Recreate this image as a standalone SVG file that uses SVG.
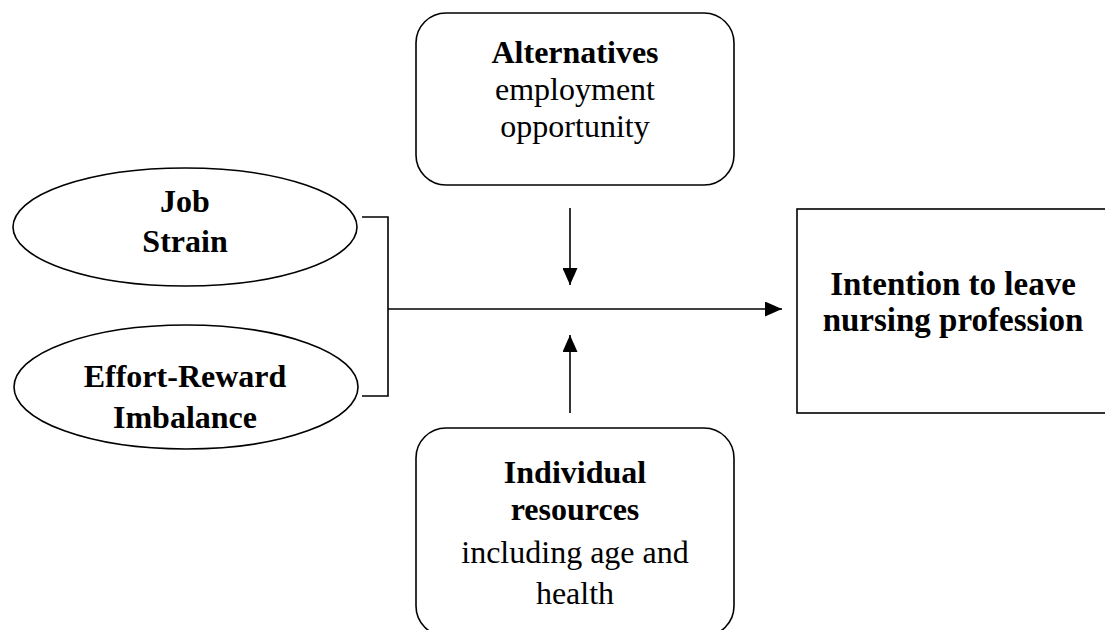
<svg xmlns="http://www.w3.org/2000/svg" width="1105" height="630" viewBox="0 0 1105 630">
<style>
.shape{fill:#fff;stroke:#000;stroke-width:1.6}
.line{fill:none;stroke:#000;stroke-width:1.6}
text{font-family:"Liberation Serif","Times New Roman",serif;font-size:32px;fill:#000;text-anchor:middle}
.b{font-weight:bold}
.big{font-size:33px}
</style>
<defs>
<marker id="arr" viewBox="0 0 17 15" refX="17" refY="7.5" markerWidth="17" markerHeight="15" markerUnits="userSpaceOnUse" orient="auto">
<path d="M0,0 L17,7.5 L0,15 Z" fill="#000"/>
</marker>
</defs>
<rect width="1105" height="630" fill="#fff"/>
<g id="job-strain">
<ellipse class="shape" cx="185" cy="227" rx="172" ry="59"/>
<text class="b" x="185" y="212">Job</text>
<text class="b" x="185" y="252">Strain</text>
</g>
<g id="effort-reward">
<ellipse class="shape" cx="186" cy="387" rx="172" ry="62"/>
<text class="b" x="185" y="387">Effort-Reward</text>
<text class="b" x="185" y="428">Imbalance</text>
</g>
<g id="alternatives">
<rect class="shape" x="416" y="13" width="318" height="172" rx="30" ry="30"/>
<text class="b" x="575" y="63">Alternatives</text>
<text x="575" y="100">employment</text>
<text x="575" y="137">opportunity</text>
</g>
<g id="individual">
<rect class="shape" x="416" y="428" width="318" height="208" rx="30" ry="30"/>
<text class="b" x="575" y="483">Individual</text>
<text class="b" x="575" y="520">resources</text>
<text x="575" y="563">including age and</text>
<text x="575" y="604">health</text>
</g>
<g id="intention">
<rect class="shape" x="797" y="209" width="330" height="204"/>
<text class="b big" x="953" y="295">Intention to leave</text>
<text class="b big" x="953" y="331">nursing profession</text>
</g>
<g id="connectors">
<path class="line" d="M362,217 H388 V396 H362"/>
<line class="line" x1="388" y1="309" x2="782" y2="309" marker-end="url(#arr)"/>
<line class="line" x1="570" y1="208" x2="570" y2="285" marker-end="url(#arr)"/>
<line class="line" x1="570" y1="413" x2="570" y2="335" marker-end="url(#arr)"/>
</g>
</svg>
